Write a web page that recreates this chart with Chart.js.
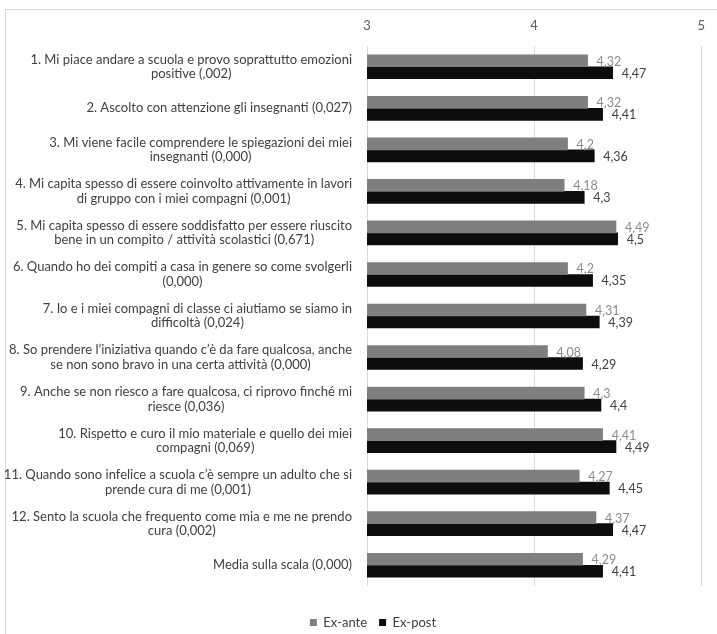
<!DOCTYPE html>
<html>
<head>
<meta charset="utf-8">
<script src="https://cdn.jsdelivr.net/npm/chart.js@4.4.0/dist/chart.umd.min.js"></script>
<style>
  html, body { margin: 0; padding: 0; background: #ffffff; }
  #wrap { width: 717px; height: 634px; position: relative; }
</style>
</head>
<body>
<div id="wrap"><canvas id="chart"></canvas></div>
<script>
// Item labels, one array of lines per category
const categories = [
  ['1. Mi piace andare a scuola e provo soprattutto emozioni', 'positive (,002)'],
  ['2. Ascolto con attenzione gli insegnanti (0,027)'],
  ['3. Mi viene facile comprendere le spiegazioni dei miei', 'insegnanti (0,000)'],
  ['4. Mi capita spesso di essere coinvolto attivamente in lavori', 'di gruppo con i miei compagni (0,001)'],
  ['5. Mi capita spesso di essere soddisfatto per essere riuscito', 'bene in un compito / attività scolastici (0,671)'],
  ['6. Quando ho dei compiti a casa in genere so come svolgerli', '(0,000)'],
  ['7. Io e i miei compagni di classe ci aiutiamo se siamo in', 'difficoltà (0,024)'],
  ['8. So prendere l’iniziativa quando c’è da fare qualcosa, anche', 'se non sono bravo in una certa attività (0,000)'],
  ['9. Anche se non riesco a fare qualcosa, ci riprovo finché mi', 'riesce (0,036)'],
  ['10. Rispetto e curo il mio materiale e quello dei miei', 'compagni (0,069)'],
  ['11. Quando sono infelice a scuola c’è sempre un adulto che si', 'prende cura di me (0,001)'],
  ['12. Sento la scuola che frequento come mia e me ne prendo', 'cura (0,002)'],
  ['Media sulla scala (0,000)']
];

const exAnte = [4.32, 4.32, 4.2, 4.18, 4.49, 4.2, 4.31, 4.08, 4.3, 4.41, 4.27, 4.37, 4.29];
const exPost = [4.47, 4.41, 4.36, 4.3, 4.5, 4.35, 4.39, 4.29, 4.4, 4.49, 4.45, 4.47, 4.41];

const seriesNames = ['Ex-ante', 'Ex-post'];
const xTicks = [3, 4, 5];

const FONT = 'Lato, "Open Sans", sans-serif';
const colors = {
  ante: '#7f7f7f',
  post: '#0d0d0d',
  anteLabel: '#8c8c8c',
  postLabel: '#404040',
  text: '#404040',
  grid: '#d9d9d9',
  frame: '#d9d9d9'
};

const fmt = v => String(v).replace('.', ',');

// Outer frame of the chart object
const framePlugin = {
  id: 'frame',
  beforeDraw(chart) {
    const ctx = chart.ctx;
    ctx.save();
    ctx.strokeStyle = colors.frame;
    ctx.lineWidth = 1;
    ctx.strokeRect(5.5, 9.5, chart.width + 10, chart.height + 10);
    ctx.restore();
  }
};

// Push the legend a bit lower, leaving the plot area where it is
const legendOffsetPlugin = {
  id: 'legendOffset',
  afterLayout(chart) {
    if (chart.legend) {
      chart.legend.top += 18;
      chart.legend.bottom += 18;
    }
  }
};

// Category labels: block right-aligned, lines centred inside the block
const categoryLabelPlugin = {
  id: 'categoryLabels',
  afterDraw(chart) {
    const ctx = chart.ctx;
    const yScale = chart.scales.y;
    const right = yScale.right - 15;
    const lineH = 14.6;
    ctx.save();
    ctx.font = '13px ' + FONT;
    ctx.fillStyle = colors.text;
    ctx.textAlign = 'center';
    ctx.textBaseline = 'middle';
    categories.forEach((lines, i) => {
      const yc = yScale.getPixelForValue(i);
      const w = Math.max(...lines.map(l => ctx.measureText(l).width));
      const cx = right - w / 2;
      const y0 = yc - (lines.length - 1) * lineH / 2;
      lines.forEach((l, j) => ctx.fillText(l, cx, y0 + j * lineH));
    });
    ctx.restore();
  }
};

// Value labels just past the end of each bar
const valueLabelPlugin = {
  id: 'valueLabels',
  afterDatasetsDraw(chart) {
    const ctx = chart.ctx;
    ctx.save();
    ctx.font = '12.5px ' + FONT;
    ctx.textAlign = 'left';
    ctx.textBaseline = 'middle';
    chart.data.datasets.forEach((ds, di) => {
      const meta = chart.getDatasetMeta(di);
      ctx.fillStyle = di === 0 ? colors.anteLabel : colors.postLabel;
      meta.data.forEach((bar, i) => {
        ctx.fillText(fmt(ds.data[i]), bar.x + 9, bar.y + 1);
      });
    });
    ctx.restore();
  }
};

new Chart(document.getElementById('chart'), {
  type: 'bar',
  data: {
    labels: categories.map(c => c.join(' ')),
    datasets: [
      {
        label: seriesNames[0],
        data: exAnte,
        backgroundColor: colors.ante,
        barThickness: 12
      },
      {
        label: seriesNames[1],
        data: exPost,
        backgroundColor: colors.post,
        barThickness: 12
      }
    ]
  },
  options: {
    indexAxis: 'y',
    responsive: true,
    maintainAspectRatio: false,
    animation: false,
    layout: {
      padding: { top: 0, right: 11, bottom: 13, left: 40 }
    },
    scales: {
      x: {
        position: 'top',
        min: 3,
        max: 5,
        afterBuildTicks(scale) {
          scale.ticks = xTicks.map(v => ({ value: v }));
        },
        afterFit(scale) {
          scale.height = 46;
        },
        grid: {
          color: colors.grid,
          drawTicks: false
        },
        border: { display: false },
        ticks: {
          padding: 12,
          color: '#595959',
          font: { family: FONT, size: 13 }
        }
      },
      y: {
        afterFit(scale) {
          scale.width = 327;
        },
        grid: { display: false },
        border: { display: false },
        ticks: { display: false }
      }
    },
    plugins: {
      legend: {
        display: true,
        position: 'bottom',
        labels: {
          boxWidth: 7,
          boxHeight: 7,
          padding: 12,
          color: colors.text,
          font: { family: FONT, size: 13 }
        }
      },
      tooltip: { enabled: false }
    }
  },
  plugins: [framePlugin, legendOffsetPlugin, categoryLabelPlugin, valueLabelPlugin]
});
</script>
</body>
</html>
